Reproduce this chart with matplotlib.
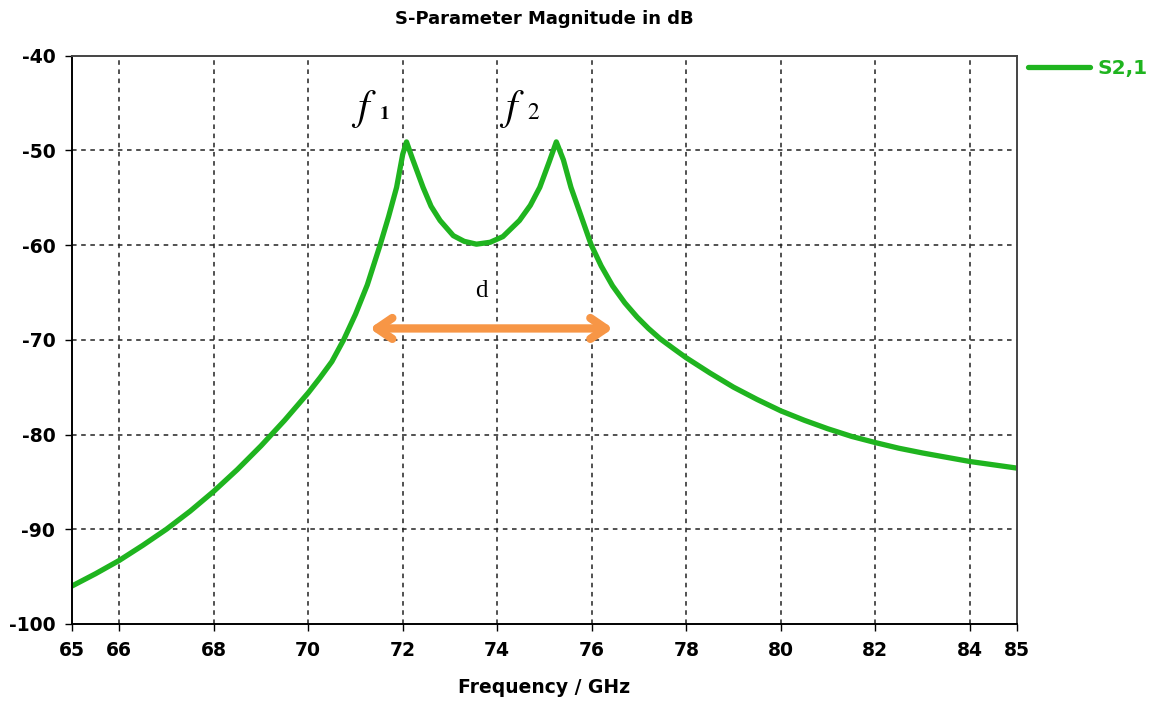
import matplotlib
matplotlib.use("Agg")
import matplotlib.pyplot as plt

# S2,1
freq = [65, 65.5, 66, 66.5, 67, 67.5, 68, 68.5, 69, 69.5, 70, 70.25, 70.5, 70.75, 71.0,
        71.25, 71.52, 71.7, 71.87, 72.0, 72.08, 72.2, 72.43, 72.6, 72.79, 73.07, 73.3,
        73.56, 73.85, 74.12, 74.47, 74.7, 74.9, 75.1, 75.25, 75.4, 75.56, 75.8, 75.99,
        76.2, 76.44, 76.7, 76.96, 77.2, 77.45, 77.75, 78, 78.5, 79, 79.5, 80, 80.5, 81,
        81.5, 82, 82.5, 83, 83.5, 84, 84.5, 85]
s21 = [-96.0, -94.7, -93.3, -91.7, -90.0, -88.1, -86.0, -83.7, -81.2, -78.5, -75.6, -74.0,
       -72.3, -70.0, -67.3, -64.2, -60.0, -57.0, -53.9, -50.4, -49.1, -50.8, -53.9, -55.9,
       -57.4, -59.0, -59.6, -59.9, -59.7, -59.1, -57.4, -55.8, -53.9, -51.2, -49.1, -51.0,
       -53.9, -57.3, -60.0, -62.2, -64.3, -66.1, -67.6, -68.8, -69.9, -71.0, -71.9, -73.5,
       -75.0, -76.3, -77.5, -78.5, -79.4, -80.2, -80.85, -81.45, -81.95, -82.4, -82.85,
       -83.2, -83.55]

xticks = [65, 66, 68, 70, 72, 74, 76, 78, 80, 82, 84, 85]
yticks = [-100, -90, -80, -70, -60, -50, -40]

# annotation positions (data coords)
f1_pos = (71.17, -46.64)
f1_idx = (71.60, -46.64)
f2_pos = (74.30, -46.64)
f2_idx = (74.77, -46.64)
d_pos = (73.66, -64.8)
arrow_x = (71.3, 76.45)
arrow_y = -68.8

green = "#1fb41f"
orange = "#f79646"

plt.rcParams["mathtext.fontset"] = "stix"

fig = plt.figure(figsize=(11.59, 7.01), dpi=100)
ax = fig.add_axes([0.0621, 0.110, 0.8154, 0.8105])

ax.plot(freq, s21, color=green, lw=3.8, label="S2,1", solid_capstyle="round",
        solid_joinstyle="round")

ax.set_xlim(65, 85)
ax.set_ylim(-100, -40)
ax.set_xticks(xticks)
ax.set_yticks(yticks)
ax.set_xticklabels([str(t) for t in xticks], fontweight="bold", fontsize=13.5)
ax.set_yticklabels([str(t) for t in yticks], fontweight="bold", fontsize=13.5)
ax.tick_params(direction="out", length=5, width=1, pad=7)

# grid only on inner ticks
for gx in xticks[1:-1]:
    ax.axvline(gx, color="#222222", lw=1.1, ls=(0, (3, 3)), zorder=0)
for gy in yticks[1:-1]:
    ax.axhline(gy, color="#222222", lw=1.1, ls=(0, (3, 3)), zorder=0)

for side in ["left", "bottom"]:
    ax.spines[side].set_linewidth(1.4)
    ax.spines[side].set_color("black")
for side in ["top", "right"]:
    ax.spines[side].set_linewidth(1.4)
    ax.spines[side].set_color("#444444")

ax.set_title("S-Parameter Magnitude in dB", fontweight="bold", fontsize=13, pad=23)
ax.set_xlabel("Frequency / GHz", fontweight="bold", fontsize=13.5, labelpad=13)

leg = ax.legend(loc="center left", bbox_to_anchor=(1.0116, 0.977), frameon=False,
                handlelength=3.1, handletextpad=0.35, borderpad=0, borderaxespad=0,
                prop={"weight": "bold", "size": 14.5}, labelcolor="linecolor")

ax.text(*f1_pos, r"$f$", fontsize=30, ha="center", va="baseline")
ax.text(*f1_idx, r"$\mathbf{1}$", fontsize=14, ha="center", va="baseline")
ax.text(*f2_pos, r"$f$", fontsize=30, ha="center", va="baseline")
ax.text(*f2_idx, r"$2$", fontsize=17, ha="center", va="baseline")
ax.text(*d_pos, "d", fontsize=18, family="Liberation Serif", ha="center", va="center")

ax.annotate("", xy=(arrow_x[0], arrow_y), xytext=(arrow_x[1], arrow_y),
            arrowprops=dict(arrowstyle="<->,head_length=1.1,head_width=0.75",
                            color=orange, lw=6, capstyle="round", joinstyle="round",
                            shrinkA=0, shrinkB=0))

fig.savefig("out.png", dpi=100)
